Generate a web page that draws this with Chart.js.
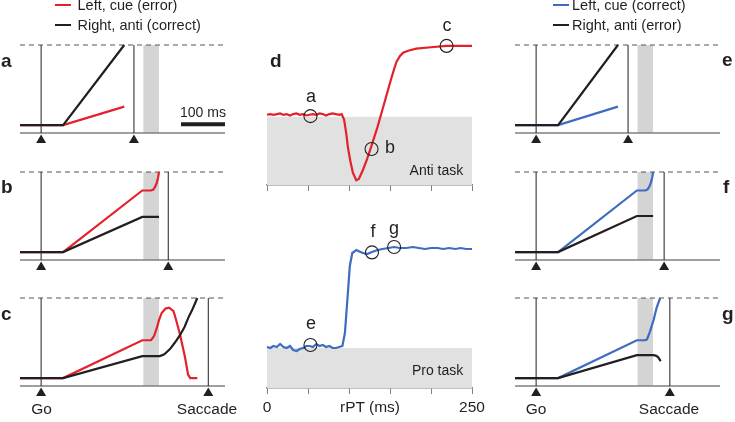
<!DOCTYPE html>
<html lang="en">
<head>
<meta charset="UTF-8">
<title>Anti / pro task race model</title>
<script src="https://cdn.jsdelivr.net/npm/chart.js@4.4.0/dist/chart.umd.min.js"></script>
<style>
  body { margin: 0; background: #fff; font-family: "Liberation Sans", Arial, sans-serif; color: #231f20; }
  #fig { position: relative; width: 735px; height: 422px; overflow: hidden; }
  #fig canvas { position: absolute; }
  .txt { position: absolute; white-space: nowrap; line-height: 1; }
  .key { position: absolute; height: 2.5px; width: 16px; }
</style>
</head>
<body>
<div id="fig">
  <canvas id="pa" width="245" height="150" style="left:0;top:0"></canvas>
  <canvas id="pb" width="245" height="150" style="left:0;top:127px"></canvas>
  <canvas id="pc" width="245" height="150" style="left:0;top:253px"></canvas>
  <canvas id="pe" width="240" height="150" style="left:495px;top:0"></canvas>
  <canvas id="pf" width="240" height="150" style="left:495px;top:127px"></canvas>
  <canvas id="pg" width="240" height="150" style="left:495px;top:253px"></canvas>
  <canvas id="anti" width="245" height="195" style="left:247px;top:0"></canvas>
  <canvas id="pro" width="245" height="222" style="left:247px;top:200px"></canvas>
</div>

<script>
// ---- model panels (time in ms from Go, activity 0 = baseline, 1 = threshold)
const xMin = -48, xMax = 418;

const aCue  = [[-48, .09], [50, .09], [189, .30]];
const aAnti = [[-48, .09], [50, .09], [189, 1]];
const bCue  = [[-48, .09], [50, .09], [230, .79], [250, .79], [255, .80], [259, .83], [263, .88], [266, .94], [268, 1]];
const bAnti = [[-48, .09], [50, .09], [230, .49], [268, .49]];
const cCue  = [[-48, .09], [50, .09], [230, .52], [250, .52], [257, .57], [263, .66], [268, .75], [274, .83], [283, .88],
               [291, .89], [301, .85], [308, .73], [316, .58], [327, .33], [334, .13], [339, .09], [355, .09]];
const cAnti = [[-48, .09], [50, .09], [230, .34], [270, .34], [280, .36], [293, .42], [305, .50], [316, .58],
               [326, .67], [335, .78], [343, .86], [350, .94], [355, 1]];

const eCue  = [[-48, .09], [50, .09], [186, .30]];
const eAnti = [[-48, .09], [50, .09], [186, 1]];
const fCue  = [[-48, .09], [50, .09], [229, .79], [248, .79], [253, .80], [257, .83], [261, .88], [264, .94], [266, 1]];
const fAnti = [[-48, .09], [50, .09], [229, .50], [266, .50]];
const gCue  = [[-48, .09], [50, .09], [229, .52], [248, .52], [252, .53], [259, .62], [267, .75], [274, .89], [282, 1]];
const gAnti = [[-48, .09], [50, .09], [229, .35], [266, .35], [272, .345], [277, .33], [281, .30], [283, .28]];

const saccadeMs = { a: 211, b: 289, c: 380, e: 209, f: 291, g: 304 };
const bandLeft = [232, 268], bandRight = [230, 266];
const scaleBar = [[318, .10], [418, .10]];   // 100 ms

// ---- panel d: fraction correct vs rPT
const rptTicks = [0, 50, 100, 150, 200, 250];
const antiTime = [0, 4, 8, 12, 16, 20, 24, 28, 32, 36, 40, 44, 48, 52, 56, 60, 64, 68, 72, 76, 80, 84, 88, 91,
                  94, 96.6, 98.6, 101.5, 104.7, 108.8, 112, 117, 122, 127, 131, 135, 139, 143, 147, 151, 155, 158,
                  162, 166, 172, 182, 200, 219, 235, 250];
const antiCorrect = [.515, .52, .515, .52, .525, .515, .52, .51, .52, .525, .515, .52, .51, .515, .52, .515, .525, .52,
                     .51, .52, .525, .52, .515, .52, .48, .38, .28, .18, .09, .035, .045, .11, .19, .28, .355, .43,
                     .515, .60, .685, .77, .85, .905, .945, .97, .985, 1.0, 1.01, 1.02, 1.02, 1.02];
const proTime = [0, 4, 8, 12, 16, 20, 24, 28, 32, 36, 40, 44, 48, 52, 56, 60, 64, 68, 72, 76, 80, 84, 88, 92,
                 95, 98, 101, 104, 109, 114, 117, 122, 128, 135, 141, 148, 155, 162, 170, 178, 185, 193, 200, 208,
                 215, 222, 230, 236, 243, 250];
const proCorrect = [.505, .50, .51, .505, .52, .505, .50, .51, .49, .485, .495, .50, .51, .51, .505, .52, .51, .515,
                    .505, .51, .50, .50, .505, .51, .575, .74, .91, .975, .99, .98, .975, .97, .98, .99, .995, 1.0,
                    1.005, 1.0, 1.0, 1.005, 1.0, .995, 1.0, 1.0, .995, 1.0, .995, 1.0, .995, .995];
const antiMarks = [[53, .505], [127.5, .264], [219, 1.02]];
const proMarks  = [[53, .515], [128, .978], [155, 1.005]];

const RED = '#e3212b', BLUE = '#3d6cc0', INK = '#231f20', AXIS = '#7f7f7f';
Chart.defaults.font.family = '"Liberation Sans", Arial, sans-serif';
Chart.defaults.color = INK;

function xy(pairs) { return pairs.map(p => ({ x: p[0], y: p[1] })); }
function zip(xs, ys) { return xs.map((x, i) => [x, ys[i]]); }

function trace(pairs, color, width, extra) {
  return Object.assign({
    data: xy(pairs), borderColor: color, borderWidth: width, pointRadius: 0,
    fill: false, tension: 0, clip: false
  }, extra || {});
}

// Go / saccade markers under the time axis
const triangles = {
  id: 'triangles',
  afterDatasetsDraw(chart, args, opts) {
    const { ctx, scales: { x, y } } = chart;
    const base = y.getPixelForValue(0);
    ctx.save();
    ctx.fillStyle = INK;
    opts.at.forEach(t => {
      const px = x.getPixelForValue(t);
      ctx.beginPath();
      ctx.moveTo(px, base + 1.5);
      ctx.lineTo(px - 5, base + 10);
      ctx.lineTo(px + 5, base + 10);
      ctx.closePath();
      ctx.fill();
    });
    ctx.restore();
  }
};

function drawPanel(id, cue, anti, cueColor, sacc, band, right, bar) {
  const datasets = [
    trace([[band[0], 1], [band[1], 1]], 'rgba(0,0,0,0)', 1, { fill: 'origin', backgroundColor: '#d4d4d4', order: 6 }),
    trace([[xMin, 1], [xMax, 1]], '#555', 1, { borderDash: [5, 4], order: 5 }),
    trace([[xMin, 0], [xMax, 0]], AXIS, 1.5, { order: 5 }),
    trace([[0, 0], [0, 1]], INK, 1, { order: 4 }),
    trace([[sacc, 0], [sacc, 1]], INK, 1, { order: 4 }),
    trace(cue, cueColor, 2.2, { order: 2 }),
    trace(anti, INK, 2.2, { order: 1 })
  ];
  if (bar) datasets.push(trace(bar, INK, 4, { order: 0, borderCapStyle: 'butt' }));
  new Chart(document.getElementById(id), {
    type: 'line',
    data: { datasets },
    plugins: [triangles],
    options: {
      responsive: false, animation: false, events: [],
      layout: { padding: { left: 20, right: right, top: 45, bottom: 17 } },
      plugins: { legend: { display: false }, tooltip: { enabled: false }, triangles: { at: [0, sacc] } },
      scales: {
        x: { type: 'linear', display: false, min: xMin, max: xMax },
        y: { display: false, min: 0, max: 1 }
      }
    }
  });
}

drawPanel('pa', aCue, aAnti, RED, saccadeMs.a, bandLeft, 20, scaleBar);
drawPanel('pb', bCue, bAnti, RED, saccadeMs.b, bandLeft, 20);
drawPanel('pc', cCue, cAnti, RED, saccadeMs.c, bandLeft, 20);
drawPanel('pe', eCue, eAnti, BLUE, saccadeMs.e, bandRight, 15);
drawPanel('pf', fCue, fAnti, BLUE, saccadeMs.f, bandRight, 15);
drawPanel('pg', gCue, gAnti, BLUE, saccadeMs.g, bandRight, 15);

function drawRpt(id, time, vals, color, marks, yMin, yMax, padTop, axisH, showLabels) {
  new Chart(document.getElementById(id), {
    type: 'line',
    data: {
      datasets: [
        trace([[0, .5], [250, .5]], 'rgba(0,0,0,0)', 1, { fill: 'start', backgroundColor: '#e1e1e1', order: 3 }),
        trace(zip(time, vals), color, 2.2, { order: 1 }),
        {
          data: xy(marks), showLine: false, pointRadius: 6.5, pointBorderWidth: 1.1,
          pointBorderColor: INK, pointBackgroundColor: 'rgba(0,0,0,0)', clip: false, order: 0
        }
      ]
    },
    options: {
      responsive: false, animation: false, events: [],
      layout: { padding: { left: 20, right: 20, top: padTop, bottom: 0 } },
      plugins: { legend: { display: false }, tooltip: { enabled: false } },
      scales: {
        x: {
          type: 'linear', min: 0, max: 250,
          afterBuildTicks: s => { s.ticks = rptTicks.map(v => ({ value: v })); },
          afterFit: s => { s.height = axisH; },
          grid: { drawOnChartArea: false, tickLength: 6, color: AXIS, lineWidth: 1 },
          border: { color: AXIS, width: 1.5 },
          ticks: {
            display: showLabels, maxRotation: 0, autoSkip: false, padding: 4,
            font: { size: 15.5 }, color: INK,
            callback: v => (v === 0 || v === 250) ? String(v) : ''
          }
        },
        y: { display: false, min: yMin, max: yMax }
      }
    }
  });
}

drawRpt('anti', antiTime, antiCorrect, RED, antiMarks, 0, 1.1, 35, 10, false);
drawRpt('pro', proTime, proCorrect, BLUE, proMarks, 0.3, 1.1, 28, 34, true);

// ---- text and keys
const fig = document.getElementById('fig');
function label(text, x, baseline, size, align, bold) {
  const d = document.createElement('div');
  d.className = 'txt';
  d.textContent = text;
  d.style.fontSize = size + 'px';
  d.style.top = (baseline - 0.8465 * size) + 'px';
  if (bold) d.style.fontWeight = 'bold';
  if (align === 'center') { d.style.left = (x - 100) + 'px'; d.style.width = '200px'; d.style.textAlign = 'center'; }
  else if (align === 'right') { d.style.left = (x - 200) + 'px'; d.style.width = '200px'; d.style.textAlign = 'right'; }
  else d.style.left = x + 'px';
  fig.appendChild(d);
}
function key(x, y, color) {
  const k = document.createElement('div');
  k.className = 'key';
  k.style.left = x + 'px';
  k.style.top = y + 'px';
  k.style.background = color;
  fig.appendChild(k);
}

key(55, 3.8, RED); key(55, 23.8, INK);
label('Left, cue (error)', 77.5, 10.7, 14.5);
label('Right, anti (correct)', 77.5, 30.7, 14.5);
key(553, 3.8, BLUE); key(553, 23.8, INK);
label('Left, cue (correct)', 572, 10.7, 14.5);
label('Right, anti (error)', 572, 30.7, 14.5);

label('a', 1, 66.7, 19, 'left', true);
label('b', 1, 193.3, 19, 'left', true);
label('c', 1, 320, 19, 'left', true);
label('d', 270, 66.7, 19, 'left', true);
label('e', 722, 66, 19, 'left', true);
label('f', 723, 193.3, 19, 'left', true);
label('g', 722, 320, 19, 'left', true);

label('100 ms', 203, 116.5, 14, 'center');
label('Go', 41.5, 414.3, 15.5, 'center');
label('Saccade', 207, 414.3, 15.5, 'center');
label('Go', 536, 414.3, 15.5, 'center');
label('Saccade', 669, 414.3, 15.5, 'center');

label('Anti task', 463.3, 175, 14, 'right');
label('Pro task', 463.3, 375, 14, 'right');
label('rPT (ms)', 370, 412, 15.5, 'center');

label('a', 311, 102.3, 18, 'center');
label('b', 385, 153.3, 18, 'left');
label('c', 447, 31.7, 18, 'center');
label('e', 311, 329.3, 18, 'center');
label('f', 373, 237.7, 18, 'center');
label('g', 394, 234.5, 18, 'center');
</script>
</body>
</html>
